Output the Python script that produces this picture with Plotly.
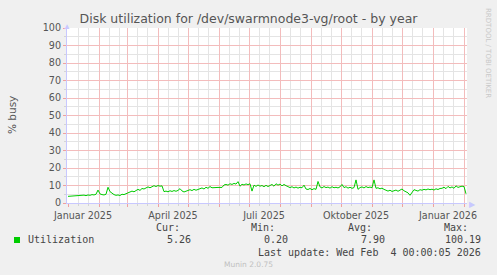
import plotly.graph_objects as go
import pandas as pd

# ---------------- data ----------------
dates = pd.date_range("2025-01-01", periods=200, freq="2D")
utilization = [
    3.8, 3.9, 3.7, 4.0, 4.2, 3.9, 4.3, 4.1, 4.5, 4.2, 4.6, 4.4, 4.8, 4.6, 5.0,
    7.4, 5.2, 4.8, 4.6, 5.0, 9.0, 6.5, 5.5, 4.8, 4.4,
    4.6, 4.3, 5.0, 4.8, 5.3, 5.8, 6.2, 6.8, 6.4, 7.2,
    7.8, 7.2, 8.3, 8.0, 8.8, 9.2, 8.7, 9.5, 9.9, 9.4,
    10.0, 9.6, 9.8, 6.5, 6.8, 6.4, 7.0, 6.6, 7.1, 6.7, 7.2,
    8.2, 6.9, 6.3, 6.8, 7.4, 7.6, 7.1, 7.8, 7.3, 7.6,
    8.2, 8.6, 8.0, 9.0, 8.4, 9.4, 8.7, 8.9, 8.8, 8.9, 8.9, 8.9,
    10.3, 10.6, 10.2, 11.0, 10.6, 11.2, 10.8, 12.2,
    9.6, 10.7, 10.3, 10.9, 10.5, 11.0, 6.8,
    10.2, 9.5, 10.3, 9.6, 10.0, 9.3, 10.1, 9.4, 9.9,
    10.6, 9.6, 11.0, 10.2, 10.8, 9.8, 10.6, 9.9,
    9.2, 8.8, 9.3, 8.6, 9.1, 8.5, 9.0, 8.7, 10.2,
    8.0, 7.7, 8.3, 7.6, 8.2, 7.8, 12.3,
    9.2, 8.6, 9.4, 8.8, 9.1, 8.5, 9.3, 8.7, 9.0, 8.6, 9.2,
    10.6, 8.8, 9.3, 8.5, 9.0, 8.4, 8.8, 13.2,
    7.8, 8.8, 9.2, 8.6, 9.4, 8.8, 9.1, 8.7, 13.2,
    8.4, 8.7, 8.1, 8.5, 7.8, 7.4,
    6.8, 7.3, 6.6, 7.0, 7.4, 6.7, 7.2,
    8.0, 7.0, 6.2, 5.8, 4.4, 6.0, 7.6, 7.2, 6.8,
    7.6, 7.3, 7.8, 7.5, 8.0, 7.6, 7.9, 7.4, 8.1, 7.7, 8.3,
    8.4, 9.0, 8.2, 9.5, 8.6, 9.2, 8.4, 9.8, 8.9, 9.3, 9.6,
    9.4, 5.26,
]

month_starts = pd.date_range("2025-01-01", "2026-02-01", freq="MS")
quarter_labels = {
    "2025-01": "Januar 2025",
    "2025-04": "April 2025",
    "2025-07": "Juli 2025",
    "2025-10": "Oktober 2025",
    "2026-01": "Januar 2026",
}
x_ticktext = [quarter_labels.get(d.strftime("%Y-%m"), "") for d in month_starts]
minor_days = [d + pd.Timedelta(days=k) for d in month_starts for k in (10, 20)]

title_text = "Disk utilization for /dev/swarmnode3-vg/root - by year"
y_title = "% busy"
series_name = "Utilization"
stat_headers = ["Cur:", "Min:", "Avg:", "Max:"]
stat_values = ["5.26", "0.20", "7.90", "100.19"]
last_update = "Last update: Wed Feb \u00a04 00:00:05 2026"
footer = "Munin 2.0.75"
watermark = "RRDTOOL / TOBI OETIKER"

# ---------------- layout helpers ----------------
W, H = 497, 275
L, R, T, B = 67, 467, 28, 203


def px(x):
    return (x - L) / (R - L)


def py(y):
    return (B - y) / (B - T)


GREEN = "#00cc00"
TICK_MAJOR = "#f0a0a0"
TICK_MINOR = "#d4d4d4"
MAJOR_G = "#f3bcbc"
MINOR_G = "#e4e4e4"
AXIS = "#c8c8ff"
TXT = "#555555"
MONO = "DejaVu Sans Mono"
SANS = "DejaVu Sans"

fig = go.Figure()
fig.add_trace(go.Scatter(
    x=dates, y=utilization, mode="lines",
    line=dict(color=GREEN, width=1), showlegend=False, hoverinfo="skip",
))

fig.update_layout(
    width=W, height=H,
    margin=dict(l=L, r=W - R, t=T, b=H - B),
    paper_bgcolor="#f0f0f0", plot_bgcolor="white",
    showlegend=False,
    title=dict(text=title_text, x=0.5, xref="container", xanchor="center",
               y=1 - 19 / H, yref="container", yanchor="middle",
               font=dict(family=SANS, size=12.5, color=TXT)),
)

fig.update_xaxes(
    range=["2024-12-31", "2026-02-04"],
    tickmode="array", tickvals=month_starts, ticktext=x_ticktext,
    ticklabelshift=15, ticks="outside", ticklen=3, tickcolor=TICK_MAJOR,
    tickfont=dict(family=SANS, size=9.6, color=TXT),
    showgrid=True, gridcolor=MAJOR_G, griddash="solid", gridwidth=1,
    minor=dict(tickvals=minor_days, showgrid=True, gridcolor=MINOR_G,
               griddash="solid", gridwidth=1, ticks="outside", ticklen=2,
               tickcolor=TICK_MINOR),
    showline=True, linecolor=AXIS, linewidth=1, zeroline=False,
    fixedrange=True,
)
fig.update_yaxes(
    range=[0, 100], tickmode="linear", tick0=0, dtick=10,
    ticks="outside", ticklen=3, tickcolor=TICK_MAJOR,
    tickfont=dict(family=SANS, size=9.6, color=TXT),
    showgrid=True, gridcolor=MAJOR_G, griddash="solid", gridwidth=1,
    minor=dict(tick0=0, dtick=5, showgrid=True, gridcolor=MINOR_G,
               griddash="solid", gridwidth=1, ticks="outside", ticklen=2,
               tickcolor=TICK_MINOR),
    showline=True, linecolor=AXIS, linewidth=1, zeroline=False,
    fixedrange=True,
)

ann = []
# axis arrows
ann.append(dict(x=px(R + 5), y=py(B), text="\u25b6", showarrow=False,
                xref="paper", yref="paper", xanchor="center", yanchor="middle",
                font=dict(size=8, color=AXIS)))
ann.append(dict(x=px(L), y=py(T - 3), text="\u25b2", showarrow=False,
                xref="paper", yref="paper", xanchor="center", yanchor="middle",
                font=dict(size=8, color=AXIS)))
# y title
ann.append(dict(x=px(12), y=py(115), text=y_title, textangle=-90, showarrow=False,
                xref="paper", yref="paper", xanchor="center", yanchor="middle",
                font=dict(family=SANS, size=10.5, color=TXT)))
# watermark
ann.append(dict(x=px(488), y=py(53), text=watermark, textangle=90, showarrow=False,
                xref="paper", yref="paper", xanchor="center", yanchor="middle",
                font=dict(family=SANS, size=7, color="#c8c8c8")))
# legend
ann.append(dict(x=px(26), y=py(239), text=series_name, showarrow=False,
                xref="paper", yref="paper", xanchor="left", yanchor="middle",
                font=dict(family=MONO, size=10, color="#444444")))
header_right = [182, 277, 374, 470]
value_right = [193, 290, 387, 483]
for h, hx in zip(stat_headers, header_right):
    ann.append(dict(x=px(hx), y=py(227), text=h, showarrow=False,
                    xref="paper", yref="paper", xanchor="right", yanchor="middle",
                    font=dict(family=MONO, size=10, color="#444444")))
for v, vx in zip(stat_values, value_right):
    ann.append(dict(x=px(vx), y=py(239), text=v, showarrow=False,
                    xref="paper", yref="paper", xanchor="right", yanchor="middle",
                    font=dict(family=MONO, size=10, color="#444444")))
ann.append(dict(x=px(483), y=py(252), text=last_update, showarrow=False,
                xref="paper", yref="paper", xanchor="right", yanchor="middle",
                font=dict(family=MONO, size=10, color="#444444")))
ann.append(dict(x=px(248.5), y=py(264), text=footer, showarrow=False,
                xref="paper", yref="paper", xanchor="center", yanchor="middle",
                font=dict(family=SANS, size=7.5, color="#c0c0c0")))
fig.update_layout(annotations=ann)

fig.add_shape(type="rect", xref="paper", yref="paper",
              x0=px(14), x1=px(20), y0=py(243), y1=py(237),
              fillcolor=GREEN, line=dict(width=0))

fig.write_html("out.html")
